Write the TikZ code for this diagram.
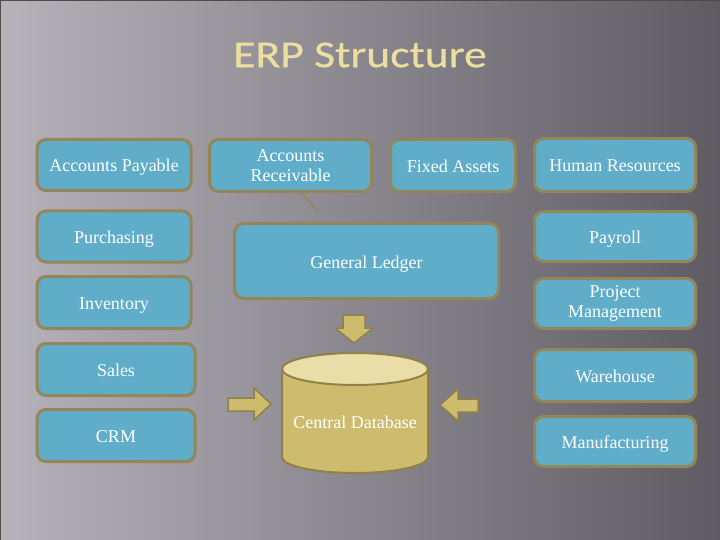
\documentclass[tikz,border=0pt]{standalone}
\usepackage{fontspec}
\setmainfont{Liberation Serif}
\newfontfamily\titlefont[FakeStretch=1.2, FakeBold=0.6]{Carlito}
\definecolor{bgLight}{RGB}{182,178,186}
\definecolor{bgMid}{RGB}{112,109,117}
\definecolor{bgDark}{RGB}{94,91,99}
\definecolor{boxFill}{RGB}{96,173,201}
\definecolor{boxEdge}{RGB}{148,134,88}
\definecolor{khaki}{RGB}{206,188,110}
\definecolor{khakiTop}{RGB}{234,222,168}
\definecolor{khakiEdge}{RGB}{145,128,72}
\definecolor{titleCol}{RGB}{236,222,160}

\begin{document}
\begin{tikzpicture}[x=1pt, y=-1pt,
    modbox/.style={draw=boxEdge, fill=boxFill, line width=3pt, rounded corners=9pt,
        text=white, align=center, inner sep=0pt,
        font=\fontsize{18}{20.5}\selectfont},
    oneline/.style={text height=17pt, text depth=3pt},
    blockarrow/.style={draw=khakiEdge, fill=khaki, line width=1.5pt, line join=miter}]
    % Tlo
    \useasboundingbox (0,0) rectangle (720,540);
    \shade[left color=bgLight, middle color=bgMid, right color=bgDark] (0,0) rectangle (720,540);
    \draw[line width=2pt, black!70] (0,540) -- (0,0) -- (720,0);
    % Tytul
    \node[text=titleCol] (title) at (360,55) {\titlefont\fontsize{38}{40}\selectfont ERP Structure};
    % Lewa kolumna
    \node[modbox, oneline, minimum width=154, minimum height=51] (ap) at (114,165) {Accounts Payable};
    \node[modbox, oneline, minimum width=154, minimum height=51] (pur) at (114,236.5) {Purchasing};
    \node[modbox, oneline, minimum width=154, minimum height=52] (inv) at (114,302.5) {Inventory};
    \node[modbox, oneline, minimum width=158, minimum height=52] (sales) at (116,369.5) {Sales};
    \node[modbox, oneline, minimum width=158, minimum height=52] (crm) at (116,435.5) {CRM};
    % Srodek
    \node[modbox, minimum width=162, minimum height=52] (ar) at (290.5,165.5) {Accounts\\Receivable};
    \node[modbox, oneline, minimum width=125, minimum height=52] (fa) at (453,165.5) {Fixed Assets};
    \node[modbox, oneline, minimum width=264, minimum height=75] (gl) at (366.5,261) {General Ledger};
    \coordinate (tail) at (318,211);
    \draw[boxEdge, line width=1.5pt] ([xshift=11pt]ar.south) -- (tail);
    % Prawa kolumna
    \node[modbox, oneline, minimum width=161, minimum height=53] (hr) at (615,165) {Human Resources};
    \node[modbox, oneline, minimum width=161, minimum height=50] (pay) at (615,236.5) {Payroll};
    \node[modbox, minimum width=161, minimum height=50] (pm) at (615,303.5) {Project\\Management};
    \node[modbox, oneline, minimum width=161, minimum height=52] (wh) at (615,375.5) {Warehouse};
    \node[modbox, oneline, minimum width=161, minimum height=50] (mfg) at (615,441.5) {Manufacturing};
    % Baza danych
    \draw[draw=khakiEdge, fill=khaki, line width=2pt] (282,369) -- (282,457)
        arc[start angle=180, end angle=0, x radius=73, y radius=16] -- (428,369) -- cycle;
    \draw[draw=khakiEdge, fill=khakiTop, line width=2pt] (355,369) ellipse[x radius=73, y radius=16];
    \node[text=white, font=\fontsize{18}{20}\selectfont] (db) at (355,422) {Central Database};
    % Strzalki
    \draw[blockarrow] (343,315) -- (365,315) -- (365,328) -- (373,328) -- (354,343)
        -- (335,328) -- (343,328) -- cycle;
    \draw[blockarrow] (228,398) -- (254,398) -- (254,388) -- (271,404) -- (254,420)
        -- (254,411) -- (228,411) -- cycle;
    \draw[blockarrow] (478,399) -- (458,399) -- (458,389) -- (440,405) -- (458,421)
        -- (458,412) -- (478,412) -- cycle;
\end{tikzpicture}
\end{document}
